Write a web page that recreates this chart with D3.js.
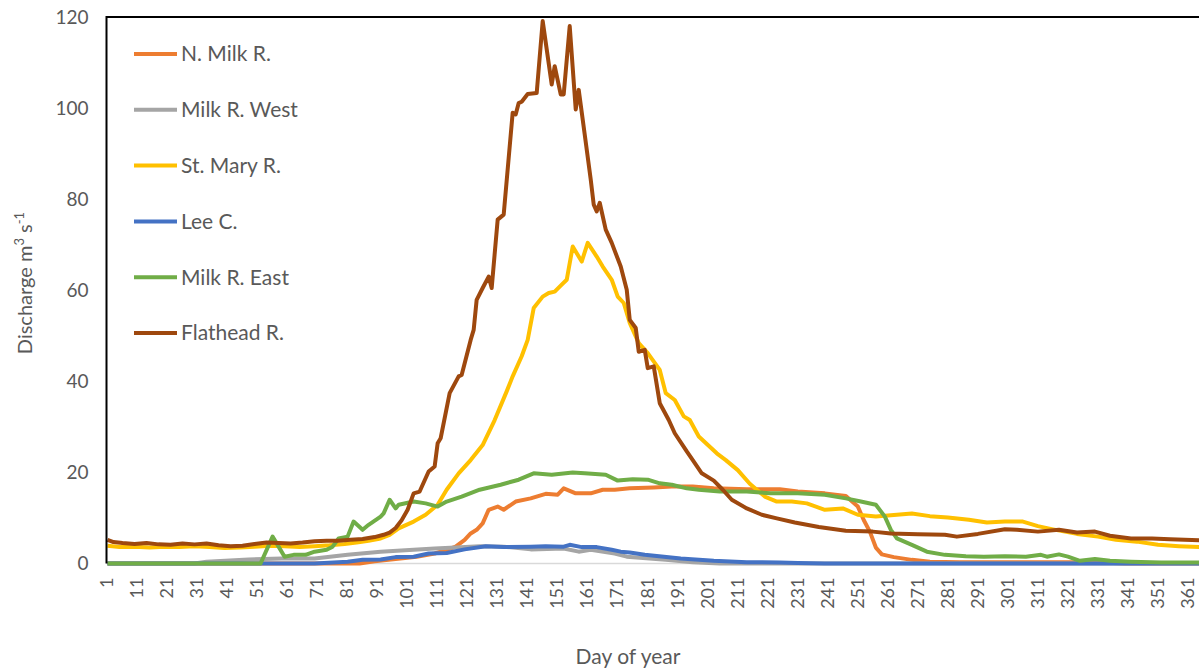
<!DOCTYPE html>
<html>
<head>
<meta charset="utf-8">
<script src="https://cdnjs.cloudflare.com/ajax/libs/d3/7.8.5/d3.min.js"></script>
<style>
    body { margin: 0; background: #fff; }
    text { font-family: Lato, "Open Sans", sans-serif; fill: #595959; }
</style>
</head>
<body>
<script>
// daily discharge as [day, m3/s]
const nMilk = [[1,0],[85,0],[90,0.5],[97,1.0],[104,1.5],[110,2.2],[114,3.0],[117,3.7],[120,5.2],[122,6.6],[124,7.4],[126,8.8],[128,11.8],[131,12.5],[133,11.8],[137,13.6],[142,14.3],[147,15.3],[151,15.1],[153,16.5],[157,15.4],[162,15.4],[166,16.2],[170,16.2],[175,16.5],[183,16.7],[189,16.9],[196,16.9],[203,16.5],[214,16.3],[225,16.3],[231,15.8],[240,15.4],[247,14.8],[251,12.5],[253,9.5],[255,7],[257,3.5],[259,2.0],[263,1.4],[269,0.8],[275,0.4],[285,0.3],[330,0.3],[340,0],[365,0]];

const milkWest = [[1,0],[30,0],[34,0.4],[48,0.9],[59,1.1],[70,1.1],[81,1.9],[92,2.6],[103,3.0],[110,3.3],[117,3.5],[125,3.8],[133,3.7],[142,3.1],[153,3.3],[158,2.6],[162,3.0],[170,2.2],[174,1.5],[187,0.8],[196,0.3],[205,0],[365,0]];

const stMary = [[1,3.9],[5,3.6],[10,3.7],[15,3.5],[20,3.7],[25,3.6],[30,3.8],[35,3.6],[40,3.4],[45,3.5],[50,3.7],[55,3.9],[60,3.8],[65,3.6],[70,3.8],[75,4.0],[80,4.3],[84,4.6],[88,5.0],[92,5.5],[95,6.3],[98,7.7],[103,9.2],[107,10.7],[111,12.9],[114,16.2],[118,19.8],[122,22.7],[126,26],[130,31.5],[134,37.8],[136,41.1],[139,45.5],[141,49.1],[143,56.1],[146,58.6],[148,59.4],[150,59.7],[152,61],[154,62.3],[156,69.6],[159,66.3],[161,70.4],[164,67.4],[166,65.2],[169,62.3],[171,58.6],[173,57.2],[175,52.8],[178,48.4],[181,46.2],[185,42.5],[187,37.4],[190,35.9],[193,32.3],[195,31.5],[198,27.9],[204,24.2],[207,22.7],[211,20.5],[215,17.5],[220,14.7],[224,13.6],[229,13.6],[234,13.2],[240,11.8],[246,12.1],[251,10.7],[257,10.3],[264,10.7],[269,11.0],[275,10.4],[281,10.1],[288,9.6],[294,9.0],[300,9.2],[306,9.2],[311,8.2],[316,7.5],[324,6.5],[331,5.9],[337,5.2],[344,4.8],[351,4.1],[358,3.8],[365,3.6]];

const leeC = [[1,0],[70,0],[81,0.4],[86,0.8],[92,0.9],[97,1.4],[103,1.5],[108,2.2],[114,2.3],[120,3.1],[127,3.8],[133,3.6],[142,3.7],[147,3.8],[153,3.7],[155,4.1],[159,3.6],[164,3.6],[169,3.0],[172,2.6],[175,2.4],[180,1.9],[192,1.1],[203,0.6],[214,0.3],[225,0.2],[231,0.1],[240,0],[365,0]];

const milkEast = [[1,0],[52,0],[56,5.9],[58,3.7],[60,1.5],[63,1.9],[67,1.9],[70,2.6],[74,3.0],[76,3.7],[78,5.5],[81,5.9],[83,9.2],[86,7.4],[88,8.5],[92,10.3],[93,11],[95,14],[97,12.1],[98,12.9],[103,13.6],[107,13.2],[111,12.5],[114,13.6],[119,14.7],[125,16.2],[132,17.3],[138,18.4],[143,19.8],[149,19.5],[156,20],[160,19.8],[167,19.5],[171,18.2],[176,18.5],[181,18.4],[185,17.6],[189,17.3],[194,16.5],[198,16.2],[205,15.8],[214,15.8],[222,15.4],[231,15.4],[240,15.1],[247,14.3],[252,13.6],[257,12.9],[260,10.3],[262,7.4],[264,5.5],[269,4.1],[274,2.6],[280,1.9],[287,1.6],[293,1.5],[300,1.6],[307,1.5],[312,1.9],[314,1.5],[318,2.0],[321,1.5],[325,0.6],[330,1.0],[335,0.6],[342,0.4],[352,0.2],[365,0.2]];

const flathead = [[1,5.2],[3,4.7],[6,4.5],[10,4.3],[14,4.5],[18,4.2],[22,4.1],[26,4.4],[30,4.2],[34,4.4],[38,4.0],[42,3.8],[46,3.9],[50,4.3],[54,4.6],[58,4.5],[62,4.4],[66,4.6],[70,4.9],[74,5.0],[78,5.0],[82,5.2],[86,5.4],[90,5.8],[93,6.3],[95,6.8],[97,7.8],[99,9.5],[101,11.8],[103,15.4],[105,15.8],[108,20.2],[110,21.3],[111,26.4],[112,27.5],[115,37.4],[118,41.1],[119,41.4],[122,49.1],[123,51.3],[124,57.9],[126,60.5],[128,63],[129,60.5],[131,75.5],[133,76.6],[136,99],[137,98.6],[138,101.1],[139,101.4],[141,103.1],[144,103.3],[146,119.1],[149,105.2],[150,109.2],[152,103],[153,103],[155,118],[157,99.7],[158,104],[160,94.2],[162,84.3],[163,78.8],[164,77.3],[165,79.2],[167,73.3],[169,70.4],[172,65.2],[174,60.1],[175,53.5],[177,51.7],[178,46.5],[180,46.9],[181,42.9],[183,43.3],[185,35.2],[188,31.5],[190,28.6],[194,24.6],[196,22.7],[199,19.8],[203,18.2],[206,16.2],[209,14],[214,12.1],[219,10.7],[224,9.9],[230,9.0],[238,8.0],[247,7.2],[256,7.0],[262,6.6],[271,6.4],[280,6.3],[284,5.9],[291,6.5],[300,7.5],[304,7.4],[311,7.0],[318,7.4],[324,6.8],[330,7.0],[335,6.1],[342,5.5],[349,5.5],[355,5.3],[365,5.1]];

const seriesNames = ['N. Milk R.', 'Milk R. West', 'St. Mary R.', 'Lee C.', 'Milk R. East', 'Flathead R.'];
const seriesColors = ['#ED7D31', '#A5A5A5', '#FFC000', '#4472C4', '#70AD47', '#9E480E'];
const seriesData = [nMilk, milkWest, stMary, leeC, milkEast, flathead];

const yTicks = [0, 20, 40, 60, 80, 100, 120];
const dayTicks = [1, 11, 21, 31, 41, 51, 61, 71, 81, 91, 101, 111, 121, 131, 141, 151, 161, 171, 181, 191, 201, 211, 221, 231, 241, 251, 261, 271, 281, 291, 301, 311, 321, 331, 341, 351, 361];

const width = 1199, height = 671;
const plotLeft = 106.5, plotTop = 17, plotBottom = 563.5, day365X = 1200;

const svg = d3.select('body').append('svg')
    .attr('width', width)
    .attr('height', height);

const x = d3.scaleLinear().domain([1, 365]).range([plotLeft + 1, day365X]);
const y = d3.scaleLinear().domain([0, 120]).range([plotBottom, plotTop]);

// y axis labels
svg.append('g')
    .attr('transform', 'translate(' + (plotLeft - 18) + ',0)')
    .call(d3.axisLeft(y).tickValues(yTicks).tickSize(0).tickPadding(0))
    .call(g => g.select('.domain').remove())
    .selectAll('text')
    .style('font-size', '19px')
    .style('font-family', 'Lato')
    .attr('fill', '#595959');

// x axis labels, rotated
svg.append('g')
    .selectAll('text')
    .data(dayTicks)
    .join('text')
    .attr('transform', d => 'translate(' + x(d) + ',' + (plotBottom + 14) + ') rotate(-90)')
    .attr('dy', '.32em')
    .style('text-anchor', 'end')
    .style('font-size', '18px')
    .text(d => d);

// zero line
svg.append('line')
    .attr('x1', plotLeft).attr('x2', width)
    .attr('y1', y(0)).attr('y2', y(0))
    .attr('stroke', '#d9d9d9').attr('stroke-width', 1.5);

const line = d3.line()
    .x(d => x(d[0]))
    .y(d => y(d[1]));

svg.append('defs').append('clipPath').attr('id', 'plot')
    .append('rect').attr('x', plotLeft).attr('y', 0).attr('width', width - plotLeft).attr('height', plotBottom + 4);

svg.append('g')
    .attr('clip-path', 'url(#plot)')
    .selectAll('path')
    .data(seriesData)
    .join('path')
    .attr('d', line)
    .attr('fill', 'none')
    .attr('stroke', (d, i) => seriesColors[i])
    .attr('stroke-width', 4)
    .attr('stroke-linejoin', 'round');

// plot frame, top and left
svg.append('line')
    .attr('x1', plotLeft).attr('x2', width)
    .attr('y1', plotTop).attr('y2', plotTop)
    .attr('stroke', '#000').attr('stroke-width', 2);
svg.append('line')
    .attr('x1', plotLeft).attr('x2', plotLeft)
    .attr('y1', plotTop - 1).attr('y2', plotBottom)
    .attr('stroke', '#000').attr('stroke-width', 2);

// legend
const legend = svg.selectAll('.legend')
    .data(seriesNames)
    .join('g')
    .attr('class', 'legend')
    .attr('transform', (d, i) => 'translate(134,' + (54 + i * 55.8) + ')');

legend.append('line')
    .attr('x1', 0).attr('x2', 43)
    .attr('stroke', (d, i) => seriesColors[i])
    .attr('stroke-width', 4);

legend.append('text')
    .attr('x', 47)
    .attr('dy', '.35em')
    .style('font-size', '21px')
    .text(d => d);

// axis titles
svg.append('text')
    .attr('x', 628)
    .attr('y', 664)
    .style('text-anchor', 'middle')
    .style('font-size', '21px')
    .text('Day of year');

const yTitle = svg.append('text')
    .attr('transform', 'translate(32,283) rotate(-90)')
    .style('text-anchor', 'middle')
    .style('font-size', '20px');
yTitle.append('tspan').text('Discharge m');
yTitle.append('tspan').attr('dy', '-8').style('font-size', '13px').text('3');
yTitle.append('tspan').attr('dy', '8').text(' s');
yTitle.append('tspan').attr('dy', '-8').style('font-size', '13px').text('-1');
</script>
</body>
</html>
